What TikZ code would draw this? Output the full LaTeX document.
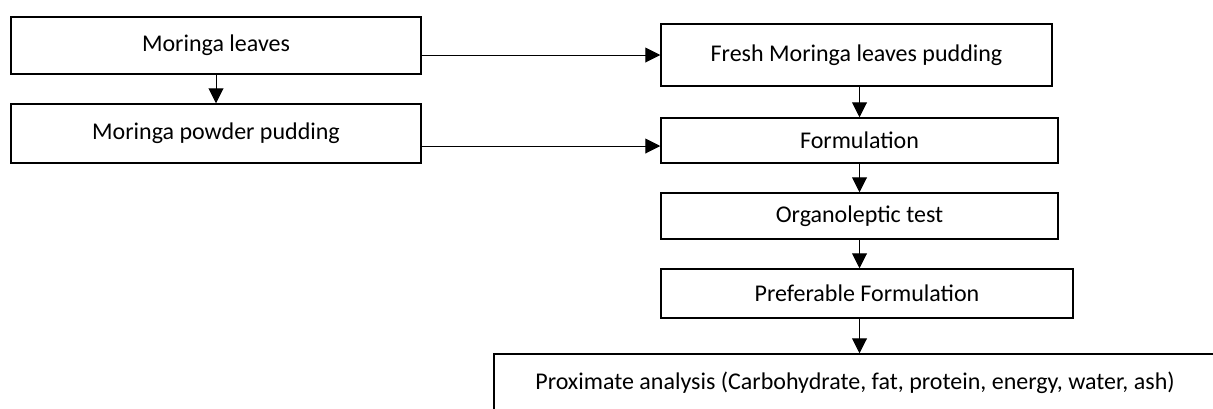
\documentclass[tikz,border=0pt]{standalone}
\usepackage{fontspec}
\setmainfont{Carlito}
\usepackage{tikz}
\usetikzlibrary{positioning,arrows.meta,calc}

\begin{document}
\begin{tikzpicture}[x=1pt,y=-1pt,
    stepbox/.style={draw, line width=1.5pt, inner sep=0pt, font=\fontsize{24}{28}\selectfont},
    flow/.style={line width=1pt, -{Triangle[length=15pt,width=15pt]}}]
    \useasboundingbox (0,0) rectangle (1213,408);

    \node[stepbox, minimum width=410pt, minimum height=57pt] (leaves) at (216,45.5) {Moringa leaves};
    \node[stepbox, minimum width=410pt, minimum height=59pt] (powder) at (216,133.5) {Moringa powder pudding};
    \node[stepbox, minimum width=391pt, minimum height=62pt] (fresh) at (856.5,55) {Fresh Moringa leaves pudding};
    \node[stepbox, minimum width=397pt, minimum height=45pt] (formul) at (859.5,140.5) {Formulation};
    \node[stepbox, minimum width=397pt, minimum height=46pt] (organo) at (859.5,216) {Organoleptic test};
    \node[stepbox, minimum width=412pt, minimum height=49pt] (prefer) at (867,293.5) {Preferable Formulation};
    \node[stepbox, minimum width=722pt, minimum height=58pt] (proxim) at (855,383)
        {Proximate analysis (Carbohydrate, fat, protein, energy, water, ash)};

    \draw[flow] (leaves.south) -- (powder.north);
    \draw[flow] (leaves.east |- fresh.west) -- (fresh.west);
    \draw[flow] ([yshift=-12.5pt]powder.east) -- ([yshift=-12.5pt]powder.east -| formul.west);
    \draw[flow] (fresh.south -| formul.south) -- (formul.north);
    \draw[flow] (formul.south) -- (organo.north);
    \draw[flow] (organo.south) -- (organo.south |- prefer.north);
    \draw[flow] (prefer.south -| organo.south) -- (organo.south |- proxim.north);
\end{tikzpicture}
\end{document}
